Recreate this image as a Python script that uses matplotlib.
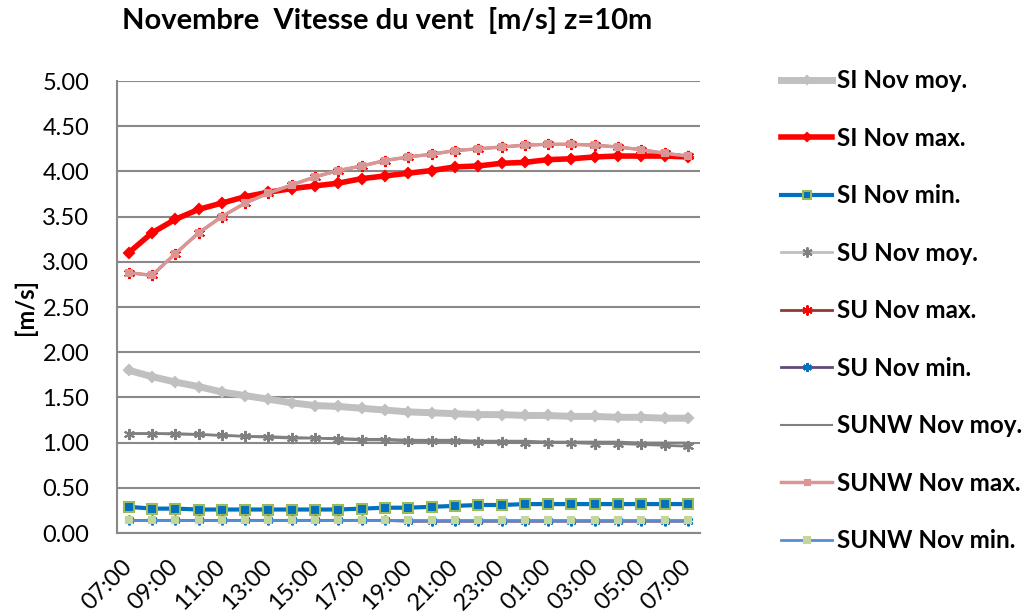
import matplotlib.pyplot as plt
from matplotlib.lines import Line2D

plt.rcParams['font.family'] = ['Lato', 'DejaVu Sans']

# hourly steps, 07:00 to 07:00 the next day
hours = ["07:00", "08:00", "09:00", "10:00", "11:00", "12:00", "13:00", "14:00",
         "15:00", "16:00", "17:00", "18:00", "19:00", "20:00", "21:00", "22:00",
         "23:00", "00:00", "01:00", "02:00", "03:00", "04:00", "05:00", "06:00", "07:00"]

si_moy = [1.80, 1.73, 1.67, 1.62, 1.56, 1.52, 1.48, 1.44, 1.41, 1.40, 1.38, 1.36, 1.34,
          1.33, 1.32, 1.31, 1.31, 1.30, 1.30, 1.29, 1.29, 1.28, 1.28, 1.27, 1.27]
si_max = [3.10, 3.32, 3.47, 3.58, 3.65, 3.72, 3.77, 3.81, 3.84, 3.87, 3.92, 3.95, 3.98,
          4.01, 4.05, 4.06, 4.09, 4.10, 4.13, 4.14, 4.16, 4.17, 4.17, 4.17, 4.16]
si_min = [0.29, 0.27, 0.27, 0.26, 0.26, 0.26, 0.26, 0.26, 0.26, 0.26, 0.27, 0.28, 0.28,
          0.29, 0.30, 0.31, 0.31, 0.32, 0.32, 0.32, 0.32, 0.32, 0.32, 0.32, 0.32]
su_moy = [1.10, 1.10, 1.10, 1.09, 1.08, 1.07, 1.06, 1.05, 1.05, 1.04, 1.03, 1.03, 1.02,
          1.02, 1.02, 1.01, 1.01, 1.00, 1.00, 1.00, 0.99, 0.99, 0.98, 0.97, 0.96]
su_max = [2.88, 2.85, 3.09, 3.32, 3.50, 3.65, 3.76, 3.85, 3.94, 4.01, 4.06, 4.12, 4.16,
          4.19, 4.23, 4.25, 4.27, 4.29, 4.30, 4.30, 4.29, 4.27, 4.24, 4.20, 4.17]
su_min = [0.14, 0.14, 0.14, 0.14, 0.14, 0.14, 0.14, 0.14, 0.14, 0.14, 0.14, 0.14, 0.13,
          0.13, 0.13, 0.13, 0.13, 0.13, 0.13, 0.13, 0.13, 0.13, 0.13, 0.13, 0.13]
sunw_moy = [1.10, 1.10, 1.09, 1.09, 1.08, 1.07, 1.07, 1.06, 1.05, 1.05, 1.04, 1.04, 1.03,
            1.03, 1.03, 1.02, 1.02, 1.02, 1.01, 1.01, 1.01, 1.01, 1.00, 1.00, 1.00]
sunw_max = su_max
sunw_min = [0.14] * 25

x = list(range(len(hours)))

fig = plt.figure(figsize=(10.32, 6.16), dpi=100)
ax = fig.add_axes([0.1134, 0.1347, 0.5645, 0.7338])

# (label, values, line colour, width, marker, face, edge, marker size)
series = [
    ("SI Nov moy.", si_moy, "#C0C0C0", 5.0, "D", "#C0C0C0", "#C0C0C0", 5),
    ("SI Nov max.", si_max, "#FF0000", 4.0, "D", "#FF0000", "#FF0000", 5),
    ("SI Nov min.", si_min, "#0070C0", 3.0, "s", "#0070C0", "#9BBB59", 7),
    ("SU Nov moy.", su_moy, "#808080", 2.0, (6, 2, 0), "#808080", "#808080", 8),
    ("SU Nov max.", su_max, "#943634", 2.0, (6, 2, 0), "#FF0000", "#FF0000", 8),
    ("SU Nov min.", su_min, "#604A7B", 2.0, (6, 2, 0), "#0070C0", "#0070C0", 7),
    ("SUNW Nov moy.", sunw_moy, "#808080", 1.5, "None", "none", "none", 0),
    ("SUNW Nov max.", sunw_max, "#D99694", 2.5, "s", "#D99694", "#D99694", 4),
    ("SUNW Nov min.", sunw_min, "#558ED5", 2.0, "s", "#C3D69B", "#C3D69B", 5),
]

handles = []
for label, vals, col, lw, mk, fc, ec, ms in series:
    ax.plot(x, vals, color=col, lw=lw, marker=mk, markerfacecolor=fc,
            markeredgecolor=ec, markersize=ms, markeredgewidth=1.5, zorder=3)
    handles.append(Line2D([], [], color=col if label != "SU Nov moy." else "#BFBFBF",
                          lw=lw, marker=mk, markerfacecolor=fc, markeredgecolor=ec,
                          markersize=ms * 0.9, markeredgewidth=1.5))

ax.set_xlim(-0.5, len(hours) - 0.5)
ax.set_ylim(0, 5)
ax.set_yticks([i * 0.5 for i in range(11)])
ax.set_yticklabels(["%.2f" % (i * 0.5) for i in range(11)], fontsize=17)
ax.set_xticks(x[::2])
ax.set_xticklabels(hours[::2], fontsize=17, rotation=45, ha="right", va="center",
                   rotation_mode="anchor")
ax.tick_params(axis="y", length=0, pad=20)
ax.tick_params(axis="x", length=0, pad=22)
ax.grid(axis="y", color="#898989", lw=1.5, zorder=0)
for side in ["top", "right"]:
    ax.spines[side].set_visible(False)
for side in ["left", "bottom"]:
    ax.spines[side].set_color("#898989")
    ax.spines[side].set_linewidth(1.5)

ax.set_ylabel("[m/s]", fontsize=17, fontweight="bold", labelpad=4)
fig.text(0.375, 0.967, "Novembre  Vitesse du vent  [m/s] z=10m", fontsize=21,
         fontweight="bold", ha="center", va="center")

fig.legend(handles, [s[0] for s in series], loc="upper left",
           bbox_to_anchor=(0.7357, 0.923), frameon=False,
           prop={"weight": "bold", "size": 17.5}, handlelength=2.1,
           handletextpad=0.2, labelspacing=1.42)

plt.savefig("out.png", dpi=100)
